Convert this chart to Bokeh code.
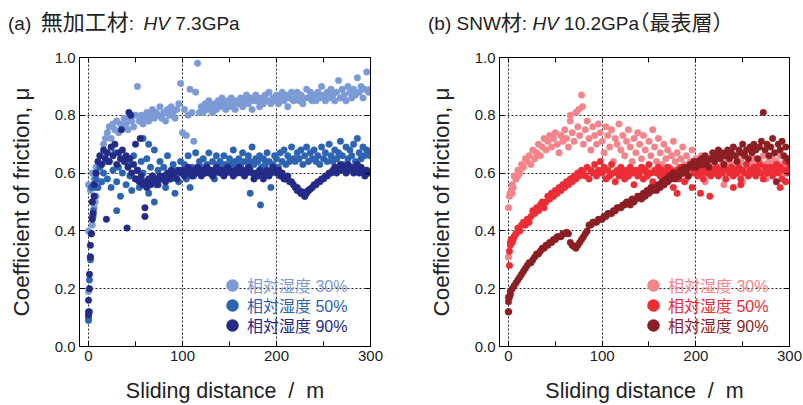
import numpy as np
from bokeh.plotting import figure
from bokeh.layouts import row, column
from bokeh.models import FixedTicker, LinearAxis, Range1d, Legend, LegendItem, Div
from bokeh.embed import file_html
from bokeh.resources import INLINE

# ---------------- data ----------------
dist = list(range(0, 301, 2))

# (a) untreated, RH 30 / 50 / 90 %
a30 = [0.56,0.54,0.60,0.58,0.62,0.57,0.63,0.66,0.70,0.72,
       0.74,0.76,0.72,0.77,0.75,0.78,0.74,0.77,0.76,0.79,
       0.77,0.75,0.79,0.78,0.76,0.80,0.90,0.78,0.80,0.77,
       0.79,0.81,0.78,0.80,0.82,0.79,0.81,0.80,0.83,0.79,
       0.81,0.78,0.82,0.80,0.83,0.81,0.79,0.82,0.84,0.91,
       0.74,0.82,0.73,0.80,0.89,0.81,0.71,0.88,0.98,0.81,
       0.83,0.81,0.84,0.82,0.85,0.83,0.81,0.84,0.82,0.85,
       0.83,0.86,0.84,0.82,0.85,0.83,0.86,0.84,0.82,0.85,
       0.84,0.86,0.83,0.85,0.87,0.84,0.86,0.82,0.85,0.87,
       0.85,0.83,0.86,0.84,0.87,0.85,0.88,0.84,0.86,0.85,
       0.87,0.84,0.86,0.88,0.85,0.87,0.83,0.86,0.88,0.85,
       0.86,0.88,0.85,0.87,0.84,0.86,0.89,0.86,0.88,0.85,
       0.87,0.85,0.88,0.86,0.90,0.87,0.85,0.88,0.86,0.89,
       0.87,0.85,0.88,0.92,0.86,0.89,0.87,0.85,0.90,0.88,
       0.86,0.89,0.87,0.93,0.88,0.90,0.86,0.89,0.95,0.88,
       0.89]
a30_ex_x = [0, 0, 4, 5, 6, 7, 8]
a30_ex_y = [0.19, 0.40, 0.42, 0.45, 0.48, 0.50, 0.52]

a50 = [0.10,0.30,0.50,0.56,0.60,0.55,0.62,0.57,0.60,0.64,
       0.58,0.64,0.55,0.61,0.67,0.57,0.62,0.52,0.60,0.65,
       0.56,0.63,0.59,0.54,0.66,0.58,0.61,0.55,0.64,0.60,
       0.57,0.65,0.53,0.62,0.59,0.68,0.56,0.61,0.64,0.58,
       0.62,0.55,0.66,0.60,0.58,0.63,0.53,0.61,0.57,0.64,
       0.60,0.63,0.58,0.66,0.55,0.62,0.59,0.67,0.61,0.64,
       0.62,0.65,0.60,0.63,0.67,0.61,0.64,0.58,0.66,0.63,
       0.64,0.62,0.66,0.63,0.61,0.65,0.63,0.68,0.64,0.62,
       0.65,0.63,0.67,0.64,0.61,0.66,0.64,0.69,0.63,0.65,
       0.64,0.66,0.62,0.65,0.63,0.67,0.64,0.55,0.63,0.66,
       0.65,0.62,0.67,0.64,0.68,0.63,0.66,0.64,0.69,0.65,
       0.64,0.67,0.65,0.68,0.63,0.66,0.69,0.64,0.67,0.65,
       0.68,0.64,0.66,0.63,0.69,0.65,0.67,0.64,0.70,0.66,
       0.64,0.68,0.65,0.67,0.71,0.66,0.63,0.69,0.65,0.68,
       0.66,0.70,0.64,0.72,0.67,0.65,0.69,0.66,0.68,0.67,
       0.66]
a50_ex_x = [0, 1, 1, 2, 3, 4, 5, 6, 7, 3, 8, 58, 64, 30, 70, 172, 183]
a50_ex_y = [0.09, 0.12, 0.23, 0.31, 0.39, 0.45, 0.47, 0.52, 0.55, 0.55, 0.58,
            0.72, 0.70, 0.47, 0.50, 0.53, 0.49]

a90 = [0.12,0.35,0.50,0.56,0.60,0.64,0.66,0.63,0.68,0.65,
       0.67,0.64,0.69,0.66,0.70,0.63,0.67,0.65,0.68,0.64,
       0.66,0.62,0.65,0.60,0.63,0.58,0.61,0.57,0.59,0.56,
       0.57,0.55,0.58,0.56,0.59,0.57,0.58,0.56,0.59,0.58,
       0.59,0.57,0.60,0.58,0.61,0.59,0.60,0.58,0.61,0.60,
       0.61,0.59,0.60,0.62,0.60,0.59,0.61,0.60,0.62,0.60,
       0.59,0.61,0.60,0.62,0.60,0.61,0.59,0.60,0.62,0.61,
       0.60,0.61,0.59,0.60,0.62,0.61,0.60,0.59,0.61,0.60,
       0.62,0.60,0.61,0.59,0.60,0.62,0.61,0.60,0.58,0.60,
       0.59,0.61,0.60,0.58,0.60,0.61,0.59,0.60,0.62,0.61,
       0.60,0.61,0.59,0.60,0.58,0.58,0.59,0.57,0.57,0.56,
       0.55,0.54,0.54,0.53,0.535,0.52,0.53,0.54,0.545,0.55,
       0.56,0.56,0.57,0.57,0.58,0.58,0.59,0.59,0.60,0.60,
       0.61,0.62,0.60,0.62,0.63,0.61,0.62,0.60,0.63,0.61,
       0.62,0.60,0.61,0.63,0.60,0.62,0.61,0.59,0.61,0.60,
       0.60]
a90_ex_x = [0, 0, 1, 1, 2, 3, 4, 5, 6, 19, 41, 43, 45, 60, 60, 55, 50, 35,
            222, 226, 230, 234]
a90_ex_y = [0.11, 0.16, 0.20, 0.25, 0.31, 0.39, 0.44, 0.46, 0.52,
            0.44, 0.41, 0.81, 0.80, 0.45, 0.48, 0.72, 0.70, 0.75,
            0.55, 0.53, 0.52, 0.54]

# (b) SNW, RH 30 / 50 / 90 %
b30 = [0.31,0.53,0.56,0.59,0.58,0.61,0.60,0.63,0.62,0.65,
       0.64,0.66,0.63,0.68,0.65,0.67,0.70,0.66,0.69,0.72,
       0.68,0.71,0.73,0.69,0.72,0.74,0.70,0.67,0.73,0.71,
       0.75,0.72,0.69,0.78,0.74,0.71,0.81,0.76,0.73,0.87,
       0.70,0.75,0.78,0.72,0.68,0.76,0.73,0.70,0.77,0.74,
       0.71,0.67,0.76,0.73,0.69,0.75,0.64,0.72,0.70,0.77,
       0.68,0.73,0.66,0.71,0.75,0.69,0.64,0.72,0.67,0.74,
       0.70,0.65,0.73,0.68,0.62,0.71,0.66,0.75,0.69,0.64,
       0.72,0.67,0.63,0.70,0.65,0.68,0.62,0.66,0.71,0.64,
       0.67,0.62,0.65,0.69,0.63,0.66,0.61,0.64,0.68,0.62,
       0.65,0.63,0.61,0.66,0.62,0.64,0.60,0.65,0.63,0.61,
       0.64,0.62,0.66,0.61,0.63,0.65,0.60,0.64,0.62,0.66,
       0.63,0.61,0.65,0.62,0.64,0.60,0.66,0.63,0.61,0.64,
       0.62,0.65,0.63,0.61,0.64,0.62,0.66,0.63,0.60,0.64,
       0.63,0.65,0.61,0.64,0.62,0.66,0.63,0.60,0.65,0.62,
       0.64]
b30_ex_x = [0, 0, 1, 2, 3, 4, 5, 8, 10, 75, 79, 66, 150, 190, 230, 250, 275, 210]
b30_ex_y = [0.31, 0.48, 0.52, 0.53, 0.54, 0.53, 0.55, 0.58, 0.59, 0.82, 0.83, 0.80,
            0.60, 0.58, 0.56, 0.57, 0.58, 0.57]

b50 = [0.17,0.35,0.37,0.38,0.39,0.41,0.40,0.42,0.43,0.42,
       0.44,0.43,0.45,0.47,0.46,0.48,0.47,0.49,0.50,0.48,
       0.50,0.52,0.51,0.53,0.52,0.54,0.53,0.55,0.54,0.56,
       0.55,0.57,0.56,0.58,0.57,0.59,0.58,0.60,0.59,0.61,
       0.60,0.59,0.62,0.58,0.61,0.60,0.63,0.59,0.61,0.64,
       0.60,0.62,0.58,0.61,0.59,0.63,0.60,0.57,0.61,0.59,
       0.62,0.60,0.58,0.61,0.59,0.62,0.60,0.56,0.61,0.59,
       0.60,0.62,0.58,0.61,0.59,0.63,0.60,0.57,0.61,0.60,
       0.62,0.59,0.61,0.56,0.60,0.62,0.58,0.61,0.55,0.60,
       0.61,0.58,0.62,0.60,0.57,0.61,0.59,0.62,0.55,0.60,
       0.61,0.59,0.62,0.60,0.58,0.61,0.60,0.62,0.59,0.61,
       0.60,0.62,0.59,0.61,0.60,0.62,0.58,0.61,0.60,0.62,
       0.59,0.61,0.60,0.62,0.58,0.61,0.60,0.63,0.59,0.61,
       0.60,0.62,0.59,0.61,0.63,0.60,0.58,0.62,0.60,0.61,
       0.62,0.59,0.61,0.63,0.60,0.62,0.58,0.61,0.64,0.60,
       0.62]
b50_ex_x = [0, 1, 1, 2, 3, 4, 5, 6, 8, 205, 215, 240, 248, 180, 160, 290, 296]
b50_ex_y = [0.17, 0.28, 0.33, 0.36, 0.37, 0.36, 0.37, 0.38, 0.39,
            0.53, 0.52, 0.55, 0.56, 0.53, 0.55, 0.55, 0.57]

b90 = [0.12,0.19,0.20,0.21,0.22,0.23,0.24,0.25,0.26,0.27,
       0.28,0.29,0.29,0.30,0.31,0.32,0.32,0.33,0.34,0.34,
       0.35,0.35,0.36,0.36,0.37,0.37,0.38,0.38,0.38,0.39,
       0.39,0.395,0.39,0.36,0.35,0.345,0.34,0.35,0.36,0.37,
       0.38,0.39,0.40,0.42,0.42,0.43,0.43,0.43,0.44,0.44,
       0.44,0.45,0.45,0.46,0.46,0.46,0.47,0.47,0.48,0.48,
       0.48,0.49,0.49,0.50,0.50,0.49,0.51,0.50,0.51,0.52,
       0.52,0.51,0.53,0.52,0.54,0.53,0.55,0.54,0.55,0.54,
       0.56,0.55,0.57,0.56,0.58,0.57,0.59,0.58,0.60,0.58,
       0.60,0.59,0.61,0.60,0.62,0.61,0.59,0.63,0.62,0.64,
       0.62,0.64,0.63,0.65,0.63,0.66,0.64,0.62,0.65,0.67,
       0.64,0.66,0.68,0.65,0.67,0.63,0.66,0.68,0.65,0.67,
       0.69,0.66,0.64,0.68,0.67,0.70,0.66,0.68,0.65,0.69,
       0.67,0.70,0.68,0.65,0.69,0.71,0.81,0.68,0.70,0.66,
       0.69,0.72,0.67,0.57,0.70,0.68,0.71,0.66,0.69,0.65,
       0.64]
b90_ex_x = [0, 0, 1, 2]
b90_ex_y = [0.12, 0.155, 0.17, 0.18]

x_ticks = [0, 50, 100, 150, 200, 250, 300]
x_tick_labels = {0: "0", 100: "100", 200: "200", 300: "300"}
y_ticks = [0.0, 0.2, 0.4, 0.6, 0.8, 1.0]
series_labels = ["相対湿度 30%", "相対湿度 50%", "相対湿度 90%"]
blue_colors = ["#7b9ad6", "#2d63b3", "#242b87"]
red_colors = ["#f3858a", "#ec2d35", "#8b1f24"]

CJK_SPAN = '<span style="font-size:{}px">{}</span>'
HALT_SPAN = '<span style="font-size:21px;font-feature-settings:\'halt\'">{}</span>'
title_a = ('(a)&ensp;' + CJK_SPAN.format(22, '無加工材') + ':&ensp;<i>HV</i>&nbsp;7.3GPa')
title_b = ('(b)&nbsp;SNW' + CJK_SPAN.format(21, '材') + ':&nbsp;<i>HV</i>&nbsp;10.2GPa'
           + HALT_SPAN.format('（最表層）'))

TICK_FONT = "'Liberation Sans Narrow', 'Liberation Sans', sans-serif"
LABEL_FONT = "'Liberation Sans', 'Noto Sans CJK JP', sans-serif"
CJK_FONT = "'Liberation Sans', 'Noto Sans CJK JP', sans-serif"


def make_panel(width, left, right, series, colors, legend_x):
    p = figure(width=width, height=365, output_backend="svg", toolbar_location=None,
               x_range=Range1d(-9.6, 300), y_range=Range1d(0, 1.0),
               min_border_left=left, min_border_right=right,
               min_border_top=17, min_border_bottom=59)
    p.outline_line_color = "black"
    p.outline_line_width = 1
    p.background_fill_color = "white"

    xax = p.xaxis[0]
    xax.ticker = FixedTicker(ticks=x_ticks)
    xax.major_label_overrides = {k: x_tick_labels.get(k, "") for k in x_ticks}
    yax = p.yaxis[0]
    yax.ticker = FixedTicker(ticks=y_ticks)
    yax.major_label_overrides = {v: f"{v:.1f}" for v in y_ticks}
    for ax in (xax, yax):
        ax.major_tick_in = 5
        ax.major_tick_out = 0
        ax.minor_tick_in = 0
        ax.minor_tick_out = 0
        ax.axis_line_color = "black"
        ax.major_tick_line_color = "black"
        ax.major_label_text_font = TICK_FONT
        ax.major_label_text_font_size = "15px"
        ax.major_label_text_color = "#222222"
        ax.major_label_standoff = 4
        ax.axis_label_text_font = LABEL_FONT
        ax.axis_label_text_font_style = "normal"
        ax.axis_label_text_color = "#222222"
    xax.axis_label = "Sliding distance\u00a0\u00a0/\u00a0\u00a0m"
    xax.axis_label_text_font_size = "21.5px"
    xax.axis_label_standoff = 15
    yax.axis_label = "Coefficient of friction, μ"
    yax.axis_label_text_font_size = "22.5px"
    yax.axis_label_standoff = 18

    top = LinearAxis(ticker=FixedTicker(ticks=x_ticks), major_tick_in=5, major_tick_out=0,
                     minor_tick_in=0, minor_tick_out=0, major_label_text_font_size="0px",
                     major_label_standoff=0, axis_line_color="black")
    rgt = LinearAxis(ticker=FixedTicker(ticks=y_ticks), major_tick_in=5, major_tick_out=0,
                     minor_tick_in=0, minor_tick_out=0, major_label_text_font_size="0px",
                     major_label_standoff=0, axis_line_color="black")
    p.add_layout(top, "above")
    p.add_layout(rgt, "right")

    p.xgrid.ticker = FixedTicker(ticks=[0, 100, 200])
    p.ygrid.ticker = FixedTicker(ticks=[0.2, 0.4, 0.6, 0.8])
    for g in (p.xgrid[0], p.ygrid[0]):
        g.grid_line_color = "black"
        g.grid_line_dash = "2 2"
        g.grid_line_width = 1
        g.grid_line_alpha = 0.85

    renderers = []
    for (ys, ex_x, ex_y), c in zip(series, colors):
        r = p.scatter(dist + ex_x, ys + ex_y, size=6.5, fill_color=c, line_color=c,
                      line_width=0.5)
        renderers.append(r)

    for i, (r, c, lab) in enumerate(zip(renderers, colors, series_labels)):
        lg = Legend(items=[LegendItem(label=lab, renderers=[r])],
                    location=(legend_x, 46 - 20 * i),
                    padding=0, margin=0, spacing=0,
                    glyph_width=30, glyph_height=30, label_height=30,
                    label_standoff=0,
                    label_text_font=CJK_FONT, label_text_font_size="16px",
                    label_text_color=c, background_fill_alpha=0,
                    border_line_alpha=0)
        p.add_layout(lg)
    return p


def make_title(html, width, pad_left):
    return Div(text=html, width=width, height=40, margin=0,
               styles={"font-family": "'Liberation Sans', 'Noto Sans CJK JP', sans-serif",
                       "font-size": "19px", "color": "#222222",
                       "padding-left": f"{pad_left}px", "padding-top": "12px",
                       "line-height": "22px", "white-space": "nowrap"})


pa = make_panel(401, 79, 31,
                [(a30, a30_ex_x, a30_ex_y), (a50, a50_ex_x, a50_ex_y), (a90, a90_ex_x, a90_ex_y)],
                blue_colors, 138)
pb = make_panel(402, 98, 14,
                [(b30, b30_ex_x, b30_ex_y), (b50, b50_ex_x, b50_ex_y), (b90, b90_ex_x, b90_ex_y)],
                red_colors, 139)

ta = make_title(title_a, 401, 8)
tb = make_title(title_b, 402, 27)

layout = row(column(ta, pa, spacing=0), column(tb, pb, spacing=0), spacing=0)
open("out.html", "w").write(file_html(layout, INLINE))
